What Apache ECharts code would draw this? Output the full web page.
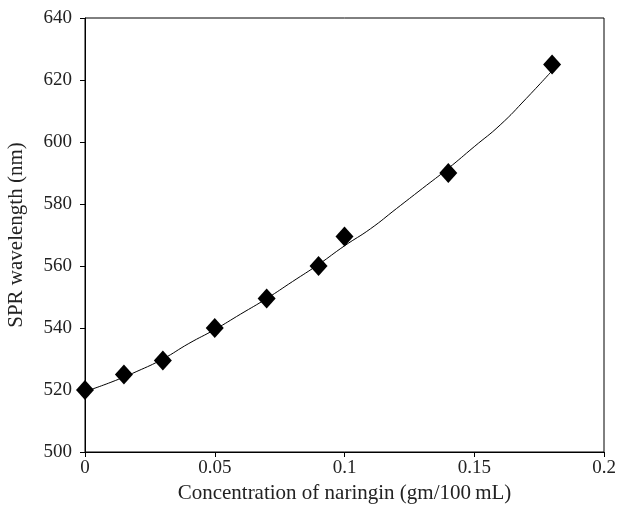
<!DOCTYPE html>
<html>
<head>
<meta charset="utf-8">
<script src="https://cdn.jsdelivr.net/npm/echarts@6/dist/echarts.min.js"></script>
<style>
  html, body { margin: 0; padding: 0; background: #fff; }
  #chart { width: 620px; height: 512px; }
</style>
</head>
<body>
<div id="chart"></div>
<script>
// measured points
const concentration = [0, 0.015, 0.03, 0.05, 0.07, 0.09, 0.1, 0.14, 0.18];
const wavelength = [520, 525, 529.5, 540, 549.5, 560, 569.5, 590, 625];

// fitted trend line
const trendX = [0, 0.01, 0.02, 0.03, 0.04, 0.05, 0.06, 0.07, 0.08, 0.09, 0.1,
                0.11, 0.12, 0.13, 0.14, 0.15, 0.16, 0.17, 0.18];
const trendY = [519.5, 522.5, 526, 530, 535, 539.5, 544.5, 549.5, 555, 560.5, 566.5,
                572, 578.5, 585, 591.5, 598.5, 605.5, 614, 623];

const xTicks = [0, 0.05, 0.1, 0.15, 0.2];
const yTicks = [500, 520, 540, 560, 580, 600, 620, 640];

const serif = 'Liberation Serif';
const chart = echarts.init(document.getElementById('chart'));

const axisCommon = {
    axisLine: { show: true, lineStyle: { color: '#000', width: 1 } },
    axisTick: { show: true, inside: false, length: 5, lineStyle: { color: '#000' } },
    splitLine: { show: false },
    axisLabel: { color: '#222', fontFamily: serif, fontSize: 19 },
    nameTextStyle: { color: '#222', fontFamily: serif, fontSize: 21 }
};

chart.setOption({
    animation: false,
    grid: {
        left: 85, right: 16, top: 18, bottom: 60,
        containLabel: false, outerBoundsMode: 'none',
        show: true, borderColor: '#000', borderWidth: 1
    },
    xAxis: Object.assign({}, axisCommon, {
        type: 'value',
        min: xTicks[0],
        max: xTicks[xTicks.length - 1],
        interval: 0.05,
        name: 'Concentration of naringin (gm/100\u2009mL)',
        nameLocation: 'middle',
        nameGap: 31,
        axisLabel: Object.assign({}, axisCommon.axisLabel, { margin: 7, formatter: v => String(v) })
    }),
    yAxis: Object.assign({}, axisCommon, {
        type: 'value',
        min: yTicks[0],
        max: yTicks[yTicks.length - 1],
        interval: 20,
        name: 'SPR wavelength (nm)',
        nameLocation: 'middle',
        nameGap: 58,
        axisLabel: Object.assign({}, axisCommon.axisLabel, { margin: 13 })
    }),
    series: [
        {
            type: 'line',
            data: trendX.map((x, i) => [x, trendY[i]]),
            smooth: true,
            showSymbol: false,
            lineStyle: { color: '#000', width: 1 },
            z: 2
        },
        {
            type: 'scatter',
            data: concentration.map((x, i) => [x, wavelength[i]]),
            symbol: 'diamond',
            symbolSize: [18, 20],
            itemStyle: { color: '#000', opacity: 1 },
            z: 3
        }
    ]
});
</script>
</body>
</html>
